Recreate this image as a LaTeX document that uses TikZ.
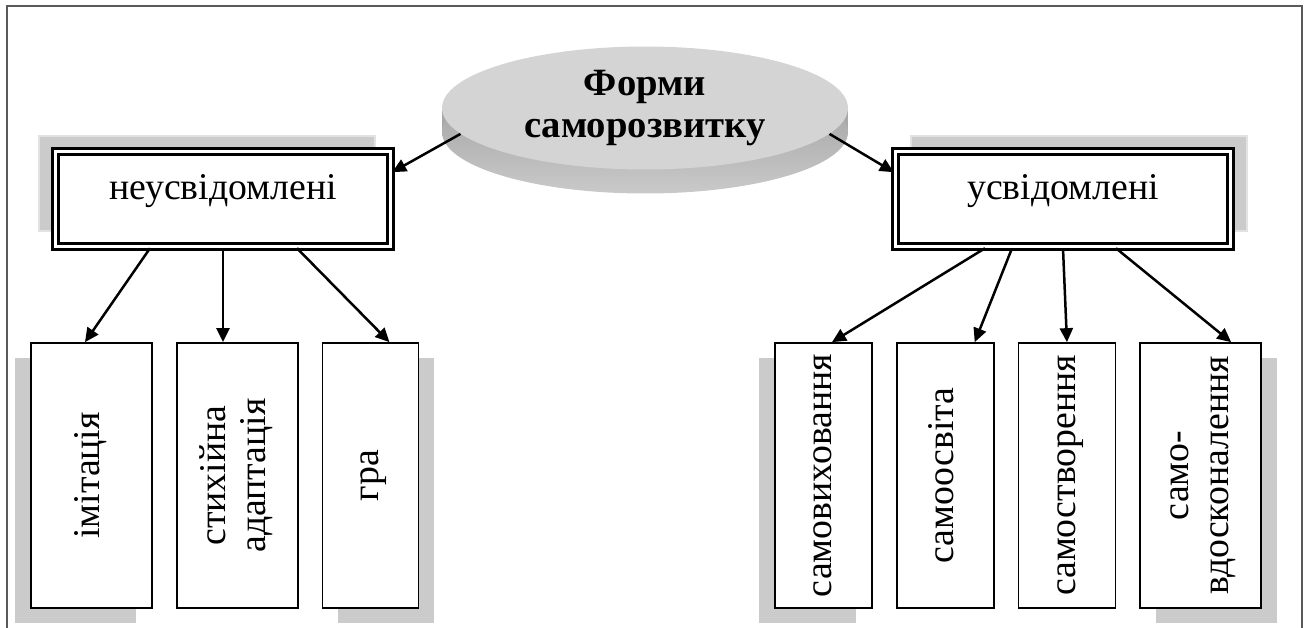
\documentclass[tikz,border=0pt]{standalone}
\usepackage{fontspec}
\setmainfont{Liberation Serif}
\usetikzlibrary{arrows.meta, positioning, shapes.geometric, shadows, backgrounds}
\definecolor{framegray}{HTML}{5A5A5A}
\definecolor{shadegray}{HTML}{CBCBCB}
\definecolor{shadeedge}{HTML}{E2E2E2}
\definecolor{discface}{HTML}{D4D4D4}
\definecolor{discrim}{HTML}{A8A8A8}
\newcommand{\vtext}[1]{\rotatebox{90}{\begin{tabular}{@{}c@{}}#1\end{tabular}}}
\tikzset{
  formbox/.style={draw, double=white, line width=0.06cm, double distance=0.05cm,
                  fill=white, minimum width=6.71cm, minimum height=1.91cm,
                  inner sep=0pt, text height=0.5cm, text depth=0.48cm,
                  font=\fontsize{21.5}{25}\selectfont},
  leafbox/.style={draw, line width=0.035cm, fill=white, minimum height=5.3cm,
                  inner sep=0pt, font=\fontsize{21.5}{23}\selectfont},
  discnode/.style={ellipse, fill=discface, minimum width=8.12cm, minimum height=2.46cm,
                   inner sep=0pt, align=center,
                   font=\bfseries\fontsize{22}{23.5}\selectfont},
  shadowTL/.style={drop shadow={shadow xshift=-0.32cm, shadow yshift=0.31cm,
                   fill=shadegray, draw=shadeedge, line width=0.04cm, opacity=1}},
  shadowTR/.style={drop shadow={shadow xshift=0.32cm, shadow yshift=0.31cm,
                   fill=shadegray, draw=shadeedge, line width=0.04cm, opacity=1}},
  shadowL/.style={drop shadow={shadow xshift=-0.32cm, shadow yshift=-0.3cm,
                  fill=shadegray, opacity=1}},
  shadowR/.style={drop shadow={shadow xshift=0.32cm, shadow yshift=-0.3cm,
                  fill=shadegray, opacity=1}},
  arr/.style={-{Triangle[length=0.28cm, width=0.26cm]}, line width=0.05cm},
}
\begin{document}
\begin{tikzpicture}[x=0.02cm, y=-0.02cm, node distance=0.46cm]
  \useasboundingbox (0,0) rectangle (1305,628);
  \draw[framegray, line width=0.04cm] (7,628) -- (7,6) -- (1302,6) -- (1302,628);

  % top disc
  \node[discnode] (forms) at (645,108) {Форми\\саморозвитку};
  \begin{scope}[on background layer]
    \fill[discrim] (442,108) rectangle (848,132);
    \shade[top color=gray!80, bottom color=gray!42] (645,132) ellipse [x radius=203, y radius=61.5];
  \end{scope}

  % two kinds
  \node[formbox, shadowTL] (unconsc) at (223,199) {неусвідомлені};
  \node[formbox, shadowTR] (consc)   at (1063,199) {усвідомлені};

  % left group
  \node[leafbox, minimum width=2.42cm, shadowL] (imit) at (91.5,475.5) {\vtext{імітація}};
  \node[leafbox, minimum width=2.42cm, right=of imit]            (adapt) {\vtext{стихійна\\адаптація}};
  \node[leafbox, minimum width=1.92cm, shadowR, right=of adapt]  (game)  {\vtext{гра}};

  % right group
  \node[leafbox, minimum width=1.94cm, shadowL] (selfedu) at (823.5,475.5) {\vtext{самовиховання}};
  \node[leafbox, minimum width=1.94cm, right=of selfedu]           (selfstudy) {\vtext{самоосвіта}};
  \node[leafbox, minimum width=1.94cm, right=of selfstudy]         (selfmake)  {\vtext{самостворення}};
  \node[leafbox, minimum width=2.42cm, shadowR, right=of selfmake] (selfimp)   {\vtext{само-\\вдосконалення}};

  \draw[arr] (forms.188) -- (unconsc.9);
  \draw[arr] (forms.-8) -- (consc.171);

  \draw[arr] ([xshift=-1.46cm]unconsc.south) -- ([xshift=-0.13cm]imit.north);
  \draw[arr] (unconsc.south) -- (unconsc.south |- adapt.north);
  \draw[arr] ([xshift=1.48cm]unconsc.south) -- ([xshift=0.38cm]game.north);

  \draw[arr] ([xshift=-1.56cm]consc.south) -- ([xshift=0.17cm]selfedu.north);
  \draw[arr] ([xshift=-1.02cm]consc.south) -- ([xshift=0.59cm]selfstudy.north);
  \draw[arr] (consc.south) -- (selfmake.north);
  \draw[arr] ([xshift=1.06cm]consc.south) -- ([xshift=0.61cm]selfimp.north);
\end{tikzpicture}
\end{document}
